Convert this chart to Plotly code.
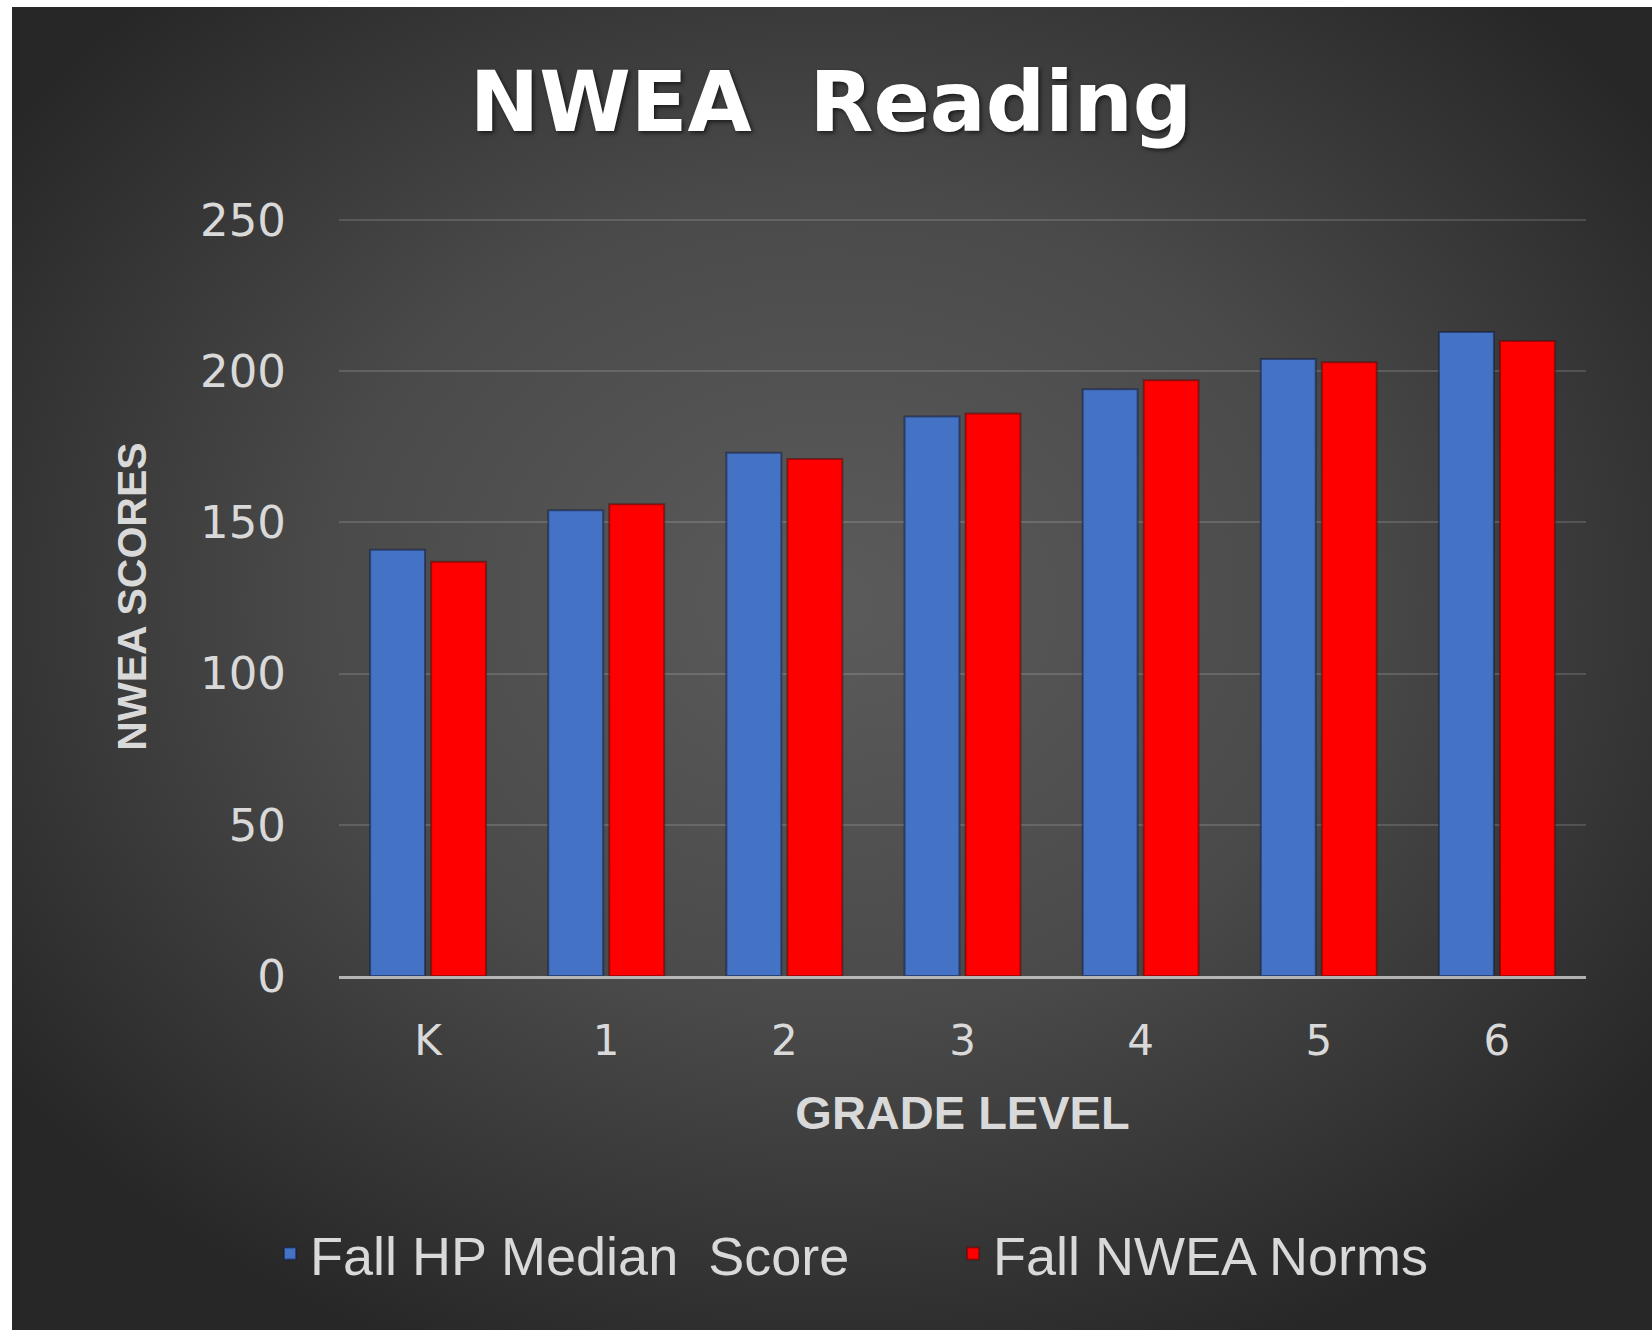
import base64
import plotly.graph_objects as go

# ---- data ----
grades = ["K", "1", "2", "3", "4", "5", "6"]
hp_median = [141, 154, 173, 185, 194, 204, 213]
nwea_norms = [137, 156, 171, 186, 197, 203, 210]
y_ticks = [0, 50, 100, 150, 200, 250]
series_names = ["Fall HP Median\u00a0\u00a0Score", "Fall NWEA Norms"]

# ---- geometry ----
W, H = 1652, 1330
Y_MAX = 251
L, R, B = 339, 66, 354
T = 976 - round(Y_MAX * 756 / 250)
pw, ph = W - L - R, H - T - B

# radial gradient background as svg data uri
svg = (
    '<svg xmlns="http://www.w3.org/2000/svg" width="1640" height="1323" '
    'viewBox="0 0 1640 1323" preserveAspectRatio="none">'
    '<defs><radialGradient id="g" cx="0.5" cy="0.45" r="0.62">'
    '<stop offset="0" stop-color="#5b5b5b"/>'
    '<stop offset="0.5" stop-color="#4a4a4a"/>'
    '<stop offset="1" stop-color="#272727"/>'
    '</radialGradient></defs>'
    '<rect width="1640" height="1323" fill="url(#g)"/></svg>'
)
bg_src = "data:image/svg+xml;base64," + base64.b64encode(svg.encode()).decode()

fig = go.Figure()
fig.add_trace(go.Bar(
    x=grades, y=hp_median, name=series_names[0],
    marker=dict(color="#4472C4", line=dict(color="rgba(20,30,60,0.55)", width=2)),
))
fig.add_trace(go.Bar(
    x=grades, y=nwea_norms, name=series_names[1],
    marker=dict(color="#FF0000", line=dict(color="rgba(90,10,10,0.55)", width=2)),
))

label_col = "#d9d9d9"
fig.update_layout(
    width=W, height=H,
    margin=dict(l=L, r=R, t=T, b=B, pad=0),
    paper_bgcolor="white",
    plot_bgcolor="rgba(0,0,0,0)",
    barmode="group",
    bargap=0.315,
    bargroupgap=0.1,
    images=[dict(
        source=bg_src, xref="paper", yref="paper",
        x=(12 - L) / pw, y=(H - B - 7) / ph,
        sizex=(W - 12) / pw, sizey=(H - 7) / ph,
        xanchor="left", yanchor="top", sizing="stretch", layer="below",
    )],
    title=dict(
        text="NWEA\u00a0\u00a0Reading",
        x=831 / W, xref="container", xanchor="center",
        y=1 - 102 / H, yref="container", yanchor="middle",
        font=dict(family="DejaVu Sans", size=83, color="white", weight="bold",
                  shadow="2px 2px 4px rgba(0,0,0,0.6)"),
    ),
    font=dict(family="DejaVu Sans", color=label_col),
    showlegend=True,
    legend=dict(
        orientation="h",
        x=(270 - L) / pw, xanchor="left",
        y=(H - B - 1254) / ph, yanchor="middle",
        font=dict(family="Liberation Sans", size=54, color=label_col),
        bgcolor="rgba(0,0,0,0)",
        entrywidth=638,
        itemwidth=30,
    ),
    xaxis=dict(
        type="category",
        showline=True, linecolor="rgba(210,210,210,0.8)", linewidth=3,
        showgrid=False, ticks="",
        tickfont=dict(family="DejaVu Sans", size=42, color=label_col),
        ticklabelstandoff=26,
        title=dict(text="GRADE LEVEL", standoff=32,
                   font=dict(family="Liberation Sans", size=47, color=label_col, weight="bold")),
    ),
    yaxis=dict(
        range=[0, Y_MAX], tickvals=y_ticks,
        showgrid=True, gridcolor="rgba(255,255,255,0.14)", gridwidth=2,
        zeroline=False, showline=False, ticks="",
        tickfont=dict(family="DejaVu Sans", size=45, color=label_col),
        ticklabelstandoff=52,
        title=dict(text="NWEA SCORES", standoff=40,
                   font=dict(family="Liberation Sans Narrow, Liberation Sans", size=41,
                             color=label_col, weight="bold")),
    ),
)

fig.write_html("out.html", config={"displayModeBar": False},
               post_script="document.body.style.margin='0';")
